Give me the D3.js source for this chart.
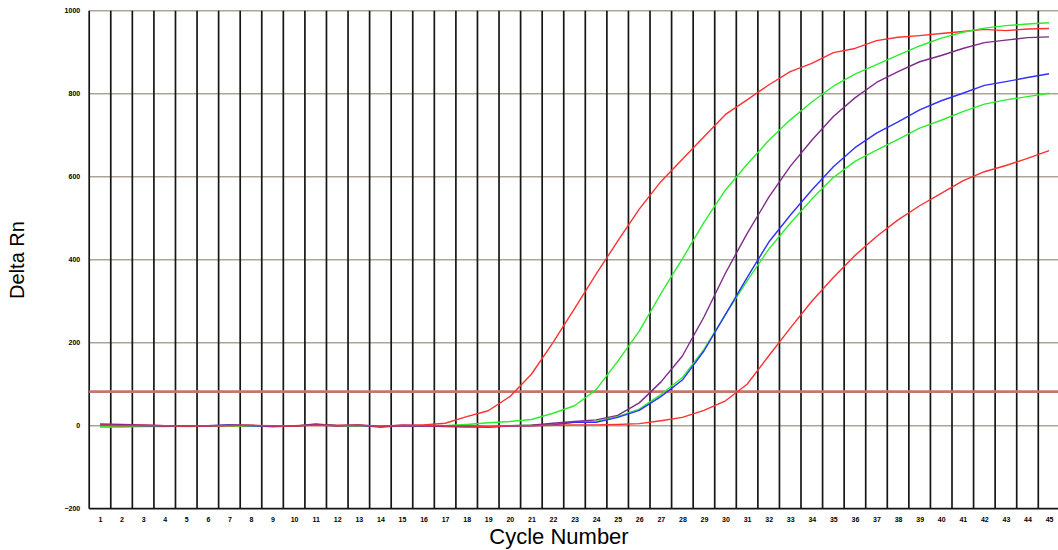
<!DOCTYPE html>
<html>
<head>
<meta charset="utf-8">
<script src="https://cdn.jsdelivr.net/npm/d3@7"></script>
<style>
  html, body { margin: 0; padding: 0; background: #fff; }
  svg { display: block; }
  text { font-family: "Liberation Sans", Arial, sans-serif; fill: #000; }
</style>
</head>
<body>
<svg id="chart" width="1058" height="550"></svg>
<script>
// Amplification plot: Delta Rn per cycle for six wells
const cycles = d3.range(1, 46);
const yTicks = [-200, 0, 200, 400, 600, 800, 1000];
const threshold = 82;

const redEarly = [2, 1, 0, -1, -1, 0, 1, 0, -1, 0, 2, 1, 0, -1, 1, 2,
  6, 22, 36, 70, 124, 200, 282, 365, 445, 522, 588, 642, 696, 750,
  785, 821, 853, 873, 899, 909, 928, 936, 940, 945, 950, 955, 952, 956, 957];
const greenEarly = [-3, -3, -2, -2, -1, -1, 0, -1, -2, -1, 3, 0, -1, -2, 0, -1,
  0, 3, 7, 10, 15, 30, 48, 87, 155, 228, 318, 402, 490, 568,
  630, 687, 737, 780, 818, 847, 870, 893, 915, 934, 948, 958, 964, 968, 971];
const purple = [4, 3, 2, 0, -1, -1, 1, 1, -1, -1, 4, 0, 2, -2, 1, 0,
  -2, -3, -3, 0, 1, 6, 10, 14, 25, 55, 105, 168, 262, 368,
  463, 550, 625, 688, 745, 790, 827, 853, 877, 892, 909, 923, 929, 935, 937];
const blue = [2, 1, 0, -1, -1, 0, 2, 0, -2, -1, 2, 0, 1, -3, 0, -1,
  -1, 0, -3, -1, 0, 2, 8, 8, 20, 37, 70, 110, 180, 268,
  357, 442, 507, 568, 624, 670, 705, 732, 761, 783, 801, 820, 829, 839, 848];
const greenLate = [-2, -2, -1, -1, -2, -1, 1, 0, -2, -1, 2, -1, 0, -2, 0, -1,
  0, 1, -1, 0, 1, 3, 9, 10, 22, 40, 75, 116, 184, 268,
  349, 425, 488, 546, 598, 637, 664, 690, 717, 736, 757, 775, 785, 793, 801];
const redLate = [1, 0, 1, 0, -1, 0, 0, 1, 0, -1, 1, 0, 1, -1, 0, 1,
  0, 0, -2, 0, 0, 1, 2, 2, 3, 5, 12, 20, 37, 60,
  100, 168, 235, 300, 357, 410, 456, 496, 530, 560, 590, 612, 627, 644, 663];

const series = [
  { name: "A1", values: redEarly, color: "#ff3030" },
  { name: "A2", values: greenEarly, color: "#2aef2a" },
  { name: "A3", values: greenLate, color: "#2aef2a" },
  { name: "A4", values: blue, color: "#3030ff" },
  { name: "A5", values: purple, color: "#7f2a8c" },
  { name: "A6", values: redLate, color: "#ff3030" }
];

const svg = d3.select("#chart");
const plotLeft = 89.2, plotTop = 10.7, plotBottom = 508.7;
const step = 21.57;

const x = d3.scaleLinear().domain([0.5, 45.5]).range([plotLeft, plotLeft + 45 * step]);
const y = d3.scaleLinear().domain([-200, 1000]).range([plotBottom, plotTop]);

// horizontal gridlines
svg.append("g")
  .selectAll("line")
  .data(yTicks.filter(v => v > -200))
  .join("line")
  .attr("x1", plotLeft).attr("x2", 1058)
  .attr("y1", d => y(d)).attr("y2", d => y(d))
  .attr("stroke", "#aaa597").attr("stroke-width", 1.4);

// vertical cycle separators
svg.append("g")
  .selectAll("line")
  .data(d3.range(0.5, 45, 1))
  .join("line")
  .attr("x1", d => x(d)).attr("x2", d => x(d))
  .attr("y1", plotTop).attr("y2", plotBottom)
  .attr("stroke", "#161616").attr("stroke-width", 1.7);

// bottom axis line
svg.append("line")
  .attr("x1", plotLeft).attr("x2", 1058)
  .attr("y1", plotBottom).attr("y2", plotBottom)
  .attr("stroke", "#161616").attr("stroke-width", 1.7);

// threshold
svg.append("line")
  .attr("x1", plotLeft).attr("x2", 1058)
  .attr("y1", y(threshold)).attr("y2", y(threshold))
  .attr("stroke", "#c5776c").attr("stroke-width", 2.6);

// amplification curves
const line = d3.line()
  .x((d, i) => x(cycles[i]))
  .y(d => y(d));

svg.append("g")
  .selectAll("path")
  .data(series)
  .join("path")
  .attr("d", d => line(d.values))
  .attr("fill", "none")
  .attr("stroke", d => d.color)
  .attr("stroke-width", 1.4)
  .attr("stroke-linejoin", "round");

// y tick labels
const yAxis = d3.axisLeft(y).tickValues(yTicks).tickSize(0).tickPadding(0)
  .tickFormat(d3.format("d"));
const gy = svg.append("g").attr("transform", `translate(${plotLeft - 9},0)`).call(yAxis);
gy.select(".domain").remove();
gy.selectAll("text").attr("font-size", 7).attr("font-family", "Liberation Sans, Arial, sans-serif")
  .attr("font-weight", "bold").attr("fill", "#333");

// x tick labels
const xAxis = d3.axisBottom(x).tickValues(cycles).tickSize(0).tickPadding(0)
  .tickFormat(d3.format("d"));
const gx = svg.append("g").attr("transform", `translate(0,${plotBottom + 8})`).call(xAxis);
gx.select(".domain").remove();
gx.selectAll("text").attr("font-size", 7).attr("font-family", "Liberation Sans, Arial, sans-serif")
  .attr("font-weight", "bold").attr("fill", "#333");

// axis titles
svg.append("text")
  .attr("transform", "translate(24,260) rotate(-90)")
  .attr("text-anchor", "middle")
  .attr("font-size", 20)
  .text("Delta Rn");

svg.append("text")
  .attr("x", 559).attr("y", 544)
  .attr("text-anchor", "middle")
  .attr("font-size", 22)
  .text("Cycle Number");
</script>
</body>
</html>
